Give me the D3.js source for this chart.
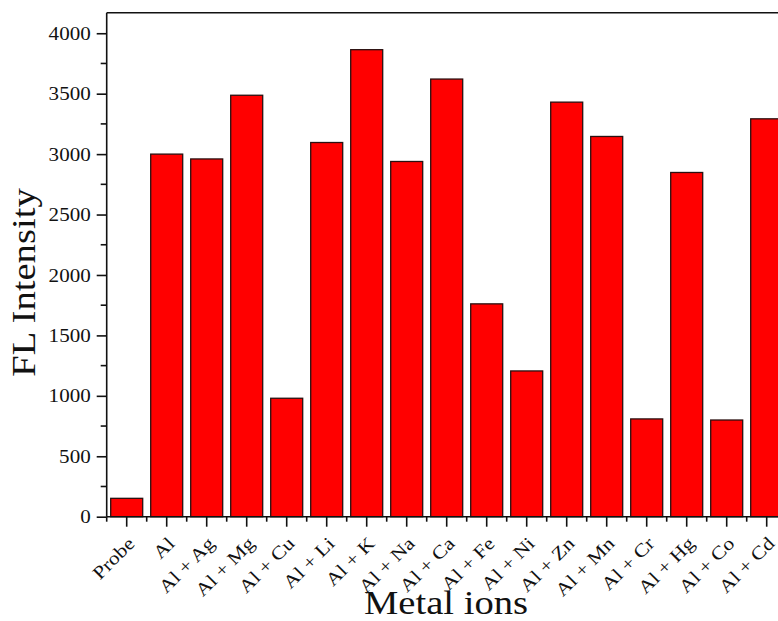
<!DOCTYPE html>
<html>
<head>
<meta charset="utf-8">
<script src="https://cdn.jsdelivr.net/npm/d3@7"></script>
<style>
  html, body { margin: 0; padding: 0; background: #fff; }
  svg text { font-family: "Liberation Serif", "Times New Roman", serif; fill: #111; }
</style>
</head>
<body>
<svg id="chart" width="778" height="621"></svg>
<script>
// Fluorescence intensity of the probe with Al and Al + competing metal ions
const categories = ["Probe", "Al", "Al + Ag", "Al + Mg", "Al + Cu", "Al + Li", "Al + K", "Al + Na",
  "Al + Ca", "Al + Fe", "Al + Ni", "Al + Zn", "Al + Mn", "Al + Cr", "Al + Hg", "Al + Co", "Al + Cd"];
const intensity = [152, 3000, 2960, 3487, 980, 3096, 3864, 2939,
  3621, 1761, 1206, 3430, 3146, 809, 2848, 800, 3292];
const yTicks = [0, 500, 1000, 1500, 2000, 2500, 3000, 3500, 4000];
const yMinorTicks = [250, 750, 1250, 1750, 2250, 2750, 3250, 3750];

const svg = d3.select("#chart");
const plotLeft = 106.7, plotRight = 786.7, plotTop = 12.7, plotBottom = 516.7;
const stretch = 1.17; // wide serif text

const x = d3.scaleBand().domain(categories).range([plotLeft, plotRight])
  .paddingInner(0.2).paddingOuter(0.1);
const y = d3.scaleLinear().domain([0, 4170]).range([plotBottom, plotTop]);
const step = x.step();

// bars
svg.append("g").selectAll("rect").data(categories).join("rect")
  .attr("x", d => x(d))
  .attr("y", (d, i) => y(intensity[i]))
  .attr("width", x.bandwidth())
  .attr("height", (d, i) => y(0) - y(intensity[i]))
  .attr("fill", "#ff0000")
  .attr("stroke", "#2a1010")
  .attr("stroke-width", 1.3);

// frame: top border
svg.append("line").attr("x1", plotLeft).attr("x2", plotRight).attr("y1", plotTop).attr("y2", plotTop)
  .attr("stroke", "#111").attr("stroke-width", 1.6);

// y axis
const yAxis = svg.append("g").attr("transform", `translate(${plotLeft},0)`)
  .call(d3.axisLeft(y).tickValues(yTicks).tickSize(10).tickPadding(6).tickFormat(d3.format("d")));
yAxis.select(".domain").attr("d", `M0,${plotTop}V${plotBottom}`).attr("stroke", "#111").attr("stroke-width", 1.6);
yAxis.selectAll(".tick line").attr("stroke", "#111").attr("stroke-width", 1.6);
yAxis.selectAll(".tick text").attr("font-size", 18).attr("dy", "0.34em")
  .attr("x", null)
  .attr("transform", `translate(-16,0) scale(${stretch},1)`);
svg.append("g").attr("transform", `translate(${plotLeft},0)`)
  .selectAll("line").data(yMinorTicks).join("line")
  .attr("x1", -6).attr("x2", 0).attr("y1", d => y(d)).attr("y2", d => y(d))
  .attr("stroke", "#111").attr("stroke-width", 1.6);

// x axis
const xAxis = svg.append("g").attr("transform", `translate(0,${plotBottom})`)
  .call(d3.axisBottom(x).tickSize(10).tickFormat(""));
xAxis.select(".domain").attr("d", `M${plotLeft},0H${plotRight}`).attr("stroke", "#111").attr("stroke-width", 1.6);
xAxis.selectAll(".tick line").attr("stroke", "#111").attr("stroke-width", 1.6);
const bounds = d3.range(categories.length + 1).map(k => plotLeft + k * step);
xAxis.append("g").selectAll("line").data(bounds).join("line")
  .attr("x1", d => d).attr("x2", d => d).attr("y1", 0).attr("y2", 5)
  .attr("stroke", "#111").attr("stroke-width", 1.6);

// rotated category labels
svg.append("g").selectAll("text").data(categories).join("text")
  .attr("transform", d => `translate(${x(d) + x.bandwidth() / 2 + 9},${plotBottom + 28}) rotate(-45) scale(${stretch},1)`)
  .attr("text-anchor", "end")
  .attr("font-size", 18.5)
  .text(d => d);

// axis titles
svg.append("text")
  .attr("transform", `translate(35,282.5) rotate(-90) scale(${stretch},1)`)
  .attr("text-anchor", "middle").attr("font-size", 33)
  .text("FL Intensity");
svg.append("text")
  .attr("transform", `translate(446,613.5) scale(${stretch},1)`)
  .attr("text-anchor", "middle").attr("font-size", 33)
  .text("Metal ions");
</script>
</body>
</html>
